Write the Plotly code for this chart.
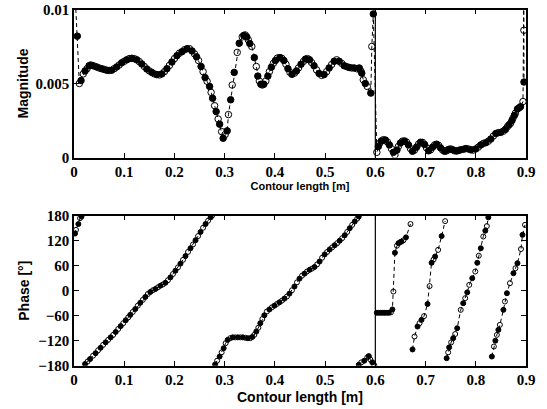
import plotly.graph_objects as go

# magnitude readings: (contour length [m], magnitude x 1e-3)
mag_part1 = [
    (0.003, 10.5), (0.0066, 8.2), (0.0106, 5.0), (0.014, 5.2), (0.0185, 5.65), (0.022, 5.85),
    (0.026, 6.0), (0.030, 6.2), (0.033, 6.25), (0.036, 6.22), (0.040, 6.18), (0.045, 6.12),
    (0.050, 6.05), (0.055, 6.0), (0.060, 5.95), (0.065, 5.9), (0.070, 5.88), (0.075, 5.9),
    (0.080, 6.0), (0.085, 6.12), (0.090, 6.25), (0.095, 6.4), (0.100, 6.5), (0.105, 6.6),
    (0.110, 6.68), (0.115, 6.7), (0.120, 6.68), (0.125, 6.6), (0.130, 6.48), (0.135, 6.32),
    (0.140, 6.15), (0.145, 5.98), (0.150, 5.85), (0.155, 5.75), (0.160, 5.65), (0.165, 5.6),
    (0.170, 5.58), (0.175, 5.65), (0.180, 5.8), (0.185, 6.0), (0.190, 6.22), (0.195, 6.45),
    (0.200, 6.68), (0.205, 6.88), (0.210, 7.05), (0.215, 7.15), (0.220, 7.28), (0.225, 7.35),
    (0.230, 7.35), (0.235, 7.2), (0.240, 7.0), (0.244, 6.8), (0.248, 6.55), (0.253, 6.15),
    (0.257, 5.8), (0.261, 5.4), (0.265, 5.15), (0.270, 4.8), (0.273, 4.4), (0.276, 4.0),
    (0.280, 3.5), (0.283, 3.1), (0.287, 2.6), (0.290, 2.25), (0.294, 1.75), (0.297, 1.3),
]
mag_part2 = [
    (0.301, 1.55), (0.305, 1.8), (0.3075, 2.9), (0.312, 3.9), (0.315, 4.9), (0.319, 5.75),
    (0.325, 7.1), (0.329, 7.72), (0.335, 8.15), (0.338, 8.25), (0.341, 8.28), (0.344, 8.15),
    (0.347, 7.95), (0.350, 7.7), (0.354, 7.5), (0.359, 6.75), (0.363, 6.15), (0.366, 5.5),
    (0.369, 5.17), (0.372, 4.95), (0.375, 4.9), (0.378, 4.95), (0.382, 5.17), (0.386, 5.5),
    (0.389, 5.8), (0.393, 6.1), (0.397, 6.36), (0.401, 6.55), (0.405, 6.72), (0.410, 6.75),
    (0.414, 6.7), (0.418, 6.55), (0.422, 6.3), (0.426, 6.0), (0.430, 5.75), (0.434, 5.62),
    (0.439, 5.7), (0.443, 5.85), (0.447, 6.05), (0.452, 6.3), (0.457, 6.5), (0.461, 6.65),
    (0.465, 6.68), (0.469, 6.6), (0.473, 6.42), (0.478, 6.2), (0.483, 5.92), (0.488, 5.68),
    (0.493, 5.55), (0.498, 5.6), (0.503, 5.8), (0.508, 6.05), (0.513, 6.28), (0.518, 6.5),
    (0.523, 6.6), (0.528, 6.5), (0.533, 6.36), (0.538, 6.2), (0.543, 6.14), (0.548, 6.08),
    (0.553, 6.05), (0.558, 6.05), (0.563, 6.0), (0.568, 6.05), (0.571, 5.85), (0.573, 5.7),
    (0.576, 5.25), (0.580, 5.0), (0.584, 4.8), (0.591, 4.35), (0.593, 7.5), (0.596, 9.7),
]
mag_part3 = [
    (0.603, 0.35), (0.606, 0.75), (0.609, 0.98), (0.612, 1.12), (0.616, 1.2), (0.620, 1.18),
    (0.624, 1.05), (0.628, 0.85), (0.632, 0.6), (0.636, 0.35), (0.639, 0.17), (0.643, 0.5),
    (0.646, 0.75), (0.650, 0.98), (0.654, 1.1), (0.658, 1.12), (0.662, 1.05), (0.666, 0.85),
    (0.670, 0.6), (0.674, 0.42), (0.678, 0.5), (0.682, 0.7), (0.686, 0.9), (0.690, 1.03),
    (0.694, 1.02), (0.698, 0.88), (0.702, 0.65), (0.706, 0.45), (0.710, 0.52), (0.714, 0.7),
    (0.718, 0.85), (0.722, 0.9), (0.726, 0.82), (0.730, 0.65), (0.734, 0.5), (0.738, 0.42),
    (0.742, 0.45), (0.746, 0.55), (0.750, 0.58), (0.754, 0.52), (0.758, 0.45), (0.762, 0.44),
    (0.766, 0.48), (0.770, 0.52), (0.775, 0.55), (0.780, 0.6), (0.785, 0.58), (0.790, 0.52),
    (0.795, 0.5), (0.800, 0.58), (0.805, 0.7), (0.810, 0.85), (0.815, 0.95), (0.820, 1.0),
    (0.825, 1.1), (0.830, 1.25), (0.835, 1.45), (0.840, 1.62), (0.845, 1.68), (0.850, 1.7),
    (0.855, 1.78), (0.859, 1.9), (0.863, 2.08), (0.866, 2.2), (0.869, 2.3), (0.872, 2.5),
    (0.874, 2.65), (0.877, 2.85), (0.879, 3.0), (0.883, 3.28), (0.886, 3.35), (0.889, 3.43),
    (0.894, 3.78), (0.8955, 10.5), (0.8958, 8.6), (0.896, 5.1), (0.92, 5.1),
]

# phase readings: (contour length [m], phase [deg]), one list per unwrapped run
phase_a = [(0.002, 137), (0.004, 146), (0.0087, 160), (0.012, 174), (0.015, 178)]
phase_b = [
    (0.022, -176), (0.027, -170), (0.032, -164), (0.038, -156), (0.043, -150), (0.048, -143),
    (0.053, -137), (0.058, -130), (0.063, -124), (0.068, -118), (0.073, -112), (0.078, -106),
    (0.083, -99), (0.088, -92), (0.093, -85), (0.098, -78), (0.103, -71), (0.108, -64),
    (0.112, -58), (0.117, -51), (0.122, -44), (0.127, -36), (0.132, -29), (0.137, -22),
    (0.142, -15), (0.147, -8), (0.152, -3), (0.157, 1), (0.162, 4), (0.167, 8),
    (0.172, 12), (0.177, 15), (0.182, 19), (0.187, 25), (0.192, 32), (0.197, 40),
    (0.202, 48), (0.207, 56), (0.212, 65), (0.217, 74), (0.222, 83), (0.227, 93),
    (0.232, 102), (0.237, 111), (0.242, 121), (0.247, 131), (0.252, 141), (0.257, 151),
    (0.262, 160), (0.267, 168), (0.272, 176), (0.275, 180),
]
phase_c = [
    (0.281, -177), (0.285, -168), (0.290, -158), (0.294, -148), (0.298, -138), (0.302, -126),
    (0.306, -118), (0.311, -114), (0.316, -112), (0.321, -112), (0.326, -112), (0.331, -112),
    (0.336, -112), (0.341, -113), (0.346, -114), (0.351, -114), (0.355, -111), (0.359, -106),
    (0.363, -98), (0.367, -89), (0.371, -78), (0.375, -68), (0.379, -59), (0.384, -50),
    (0.389, -45), (0.394, -40), (0.399, -36), (0.404, -32), (0.409, -28), (0.414, -24),
    (0.419, -19), (0.424, -14), (0.429, -7), (0.434, 1), (0.439, 10), (0.444, 20),
    (0.449, 29), (0.454, 36), (0.459, 41), (0.464, 46), (0.469, 50), (0.474, 53),
    (0.479, 57), (0.484, 63), (0.489, 70), (0.494, 79), (0.499, 87), (0.504, 93),
    (0.509, 99), (0.514, 104), (0.519, 109), (0.524, 114), (0.529, 120), (0.534, 126),
    (0.539, 133), (0.544, 141), (0.549, 150), (0.554, 158), (0.559, 166), (0.564, 173),
    (0.567, 178),
]
phase_d = [(0.567, -178), (0.572, -172), (0.578, -168), (0.584, -160), (0.587, -157),
           (0.590, -165), (0.594, -172), (0.598, -179)]
phase_e = [
    (0.603, -53), (0.607, -53), (0.611, -53), (0.615, -53), (0.619, -53), (0.623, -53),
    (0.627, -53), (0.631, -52), (0.634, -45), (0.636, -2), (0.639, 91), (0.643, 108),
    (0.646, 114), (0.649, 116), (0.652, 118), (0.656, 121), (0.661, 128), (0.670, 160),
]
phase_f = [
    (0.674, -141), (0.678, -110), (0.684, -86), (0.688, -78), (0.692, -70), (0.697, -61),
    (0.704, -32), (0.708, 11), (0.712, 67), (0.716, 75), (0.719, 82), (0.725, 98),
    (0.732, 131), (0.739, 167),
]
phase_g = [
    (0.742, -162), (0.745, -148), (0.747, -136), (0.751, -124), (0.755, -114), (0.759, -104),
    (0.763, -90), (0.770, -46), (0.775, -30), (0.779, -18), (0.783, -4), (0.787, 14),
    (0.793, 30), (0.799, 46), (0.803, 67), (0.806, 84), (0.810, 102), (0.815, 130),
    (0.819, 144), (0.822, 155), (0.825, 176),
]
phase_h = [
    (0.832, -158), (0.836, -134), (0.839, -120), (0.842, -106), (0.845, -94), (0.848, -82),
    (0.855, -46), (0.858, -26), (0.862, -6), (0.868, 18), (0.875, 42), (0.879, 54),
    (0.883, 66), (0.890, 100), (0.893, 134), (0.898, 158),
]


def alt_symbols(n, first_filled=True):
    start = 0 if first_filled else 1
    return ['circle' if (i + start) % 2 == 0 else 'circle-open' for i in range(n)]


def add_run(fig, pts, xa, ya, scale=1.0, size=6, first_filled=True):
    xs = [p[0] for p in pts]
    ys = [p[1] * scale for p in pts]
    fig.add_trace(go.Scatter(
        x=xs, y=ys, xaxis=xa, yaxis=ya, mode='lines+markers', showlegend=False,
        line=dict(color='black', width=1, dash='4px,3px'),
        marker=dict(symbol=alt_symbols(len(xs), first_filled), size=size, color='black',
                    line=dict(color='black', width=1))))


fig = go.Figure()
add_run(fig, mag_part1 + mag_part2 + mag_part3, 'x', 'y', scale=1e-3, size=6.5, first_filled=False)
for run in [phase_a, phase_b, phase_c, phase_d, phase_e, phase_f, phase_g, phase_h]:
    add_run(fig, run, 'x2', 'y2', size=5)

serif = 'Liberation Serif'
sans = 'Liberation Sans'
tickfont = dict(family=serif, size=15, color='black', weight='bold')
titlefont = dict(family=sans, size=14, color='black', weight='bold')
axis_style = dict(showline=True, linecolor='black', linewidth=1.5, mirror='ticks',
                  ticks='inside', ticklen=5, tickwidth=1, tickcolor='black',
                  showgrid=False, zeroline=False, tickfont=tickfont, automargin=False)

xticks = [0, 0.1, 0.2, 0.3, 0.4, 0.5, 0.6, 0.7, 0.8, 0.9]
xlabels = ['0', '0.1', '0.2', '0.3', '0.4', '0.5', '0.6', '0.7', '0.8', '0.9']
xdom = [74 / 547, 526 / 547]
fig.update_layout(
    width=547, height=409, margin=dict(l=0, r=0, t=0, b=0, autoexpand=False),
    paper_bgcolor='white', plot_bgcolor='white',
    xaxis=dict(domain=xdom, anchor='y', range=[0, 0.9], tickvals=xticks, ticktext=xlabels,
               title=dict(text='Contour length [m]',
                          font=dict(family=sans, size=11, color='black', weight='bold'), standoff=2),
               **axis_style),
    yaxis=dict(domain=[(409 - 157.5) / 409, (409 - 9.5) / 409], anchor='x', range=[0, 0.01],
               tickvals=[0, 0.005, 0.01], ticktext=['0', '0.005', '0.01'],
               title=dict(text='Magnitude', font=titlefont, standoff=4), **axis_style),
    xaxis2=dict(domain=xdom, anchor='y2', range=[0, 0.9], tickvals=xticks, ticktext=xlabels,
                **axis_style),
    yaxis2=dict(domain=[(409 - 365.7) / 409, (409 - 215.7) / 409], anchor='x2', range=[-180, 180],
                tickvals=[-180, -120, -60, 0, 60, 120, 180],
                title=dict(text='Phase [°]', font=titlefont, standoff=5), **axis_style),
)

# lower x title sits tight under the tick labels
fig.add_annotation(text='Contour length [m]', xref='paper', yref='paper',
                   x=sum(xdom) / 2, y=(409 - 397) / 409, xanchor='center', yanchor='middle',
                   showarrow=False, font=titlefont)

# separator at 0.6 m in both panels
for xr, yr in [('x', 'y'), ('x2', 'y2')]:
    fig.add_shape(type='line', xref=xr, yref=yr + ' domain', x0=0.6, x1=0.6, y0=0, y1=1,
                  line=dict(color='black', width=1.2))

fig.write_html("out.html", config={'displayModeBar': False},
               post_script="document.body.style.margin = '0';")
